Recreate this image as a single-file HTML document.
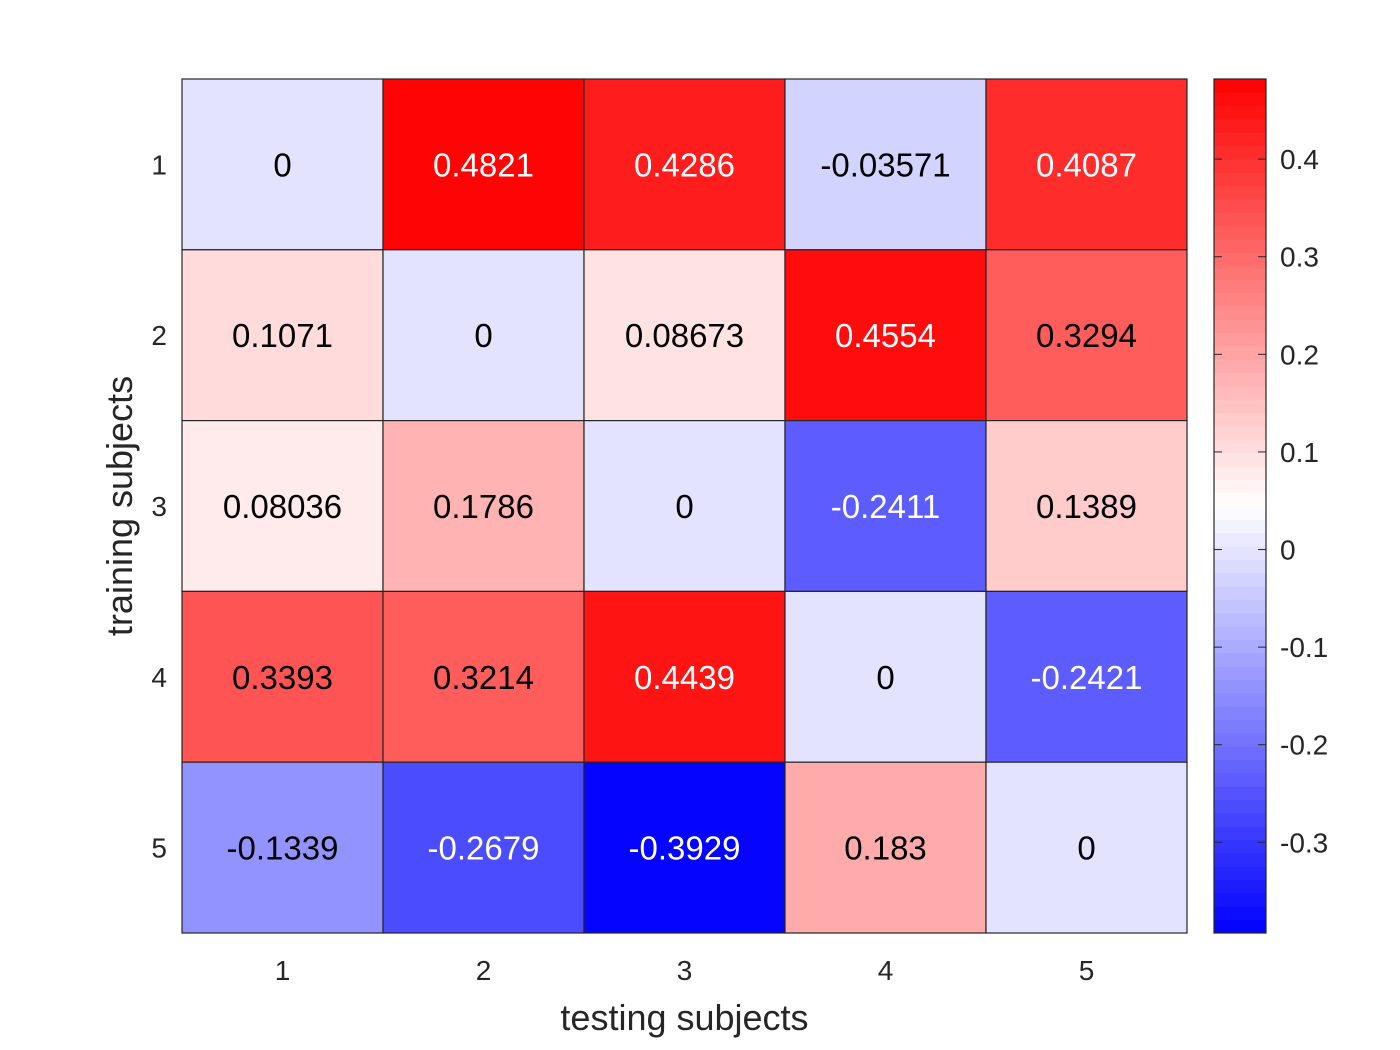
<!DOCTYPE html>
<html><head><meta charset="utf-8"><style>
html,body{margin:0;padding:0;background:#fff;}
svg{display:block;font-family:"Liberation Sans",Arial,sans-serif;}
</style></head><body>
<svg id="chart" width="1400" height="1050" viewBox="0 0 1400 1050">
<g id="cells"></g>
<g id="cbar"></g>
<text x="684.5" y="1030" font-size="36" text-anchor="middle" fill="#262626">testing subjects</text>
<text transform="translate(132,506) rotate(-90)" font-size="36" text-anchor="middle" fill="#262626">training subjects</text>
</svg>
<script>
const xCategories = ["1","2","3","4","5"];
const yCategories = ["1","2","3","4","5"];
const values = [
 [0, 0.4821, 0.4286, -0.03571, 0.4087],
 [0.1071, 0, 0.08673, 0.4554, 0.3294],
 [0.08036, 0.1786, 0, -0.2411, 0.1389],
 [0.3393, 0.3214, 0.4439, 0, -0.2421],
 [-0.1339, -0.2679, -0.3929, 0.183, 0]
];
const cbarTicks = [-0.3,-0.2,-0.1,0,0.1,0.2,0.3,0.4];
const labels = [
 ["0","0.4821","0.4286","-0.03571","0.4087"],
 ["0.1071","0","0.08673","0.4554","0.3294"],
 ["0.08036","0.1786","0","-0.2411","0.1389"],
 ["0.3393","0.3214","0.4439","0","-0.2421"],
 ["-0.1339","-0.2679","-0.3929","0.183","0"]
];
const NS="http://www.w3.org/2000/svg";
const L=182,R=1187,T=79,B=933;
const flat=values.flat();
const vmin=Math.min(...flat), vmax=Math.max(...flat);
const N=64;
function tNorm(v){return (v-vmin)/(vmax-vmin);}
function color(v){
  let i=Math.min(N-1,Math.floor(tNorm(v)*N));
  let t=(i+0.5)/N;
  let r,g,b;
  if(t<0.5){let s=Math.round(255*t*2);r=s;g=s;b=255;}
  else{let s=Math.round(255*(1-t)*2);r=255;g=s;b=s;}
  return `rgb(${r},${g},${b})`;
}
function el(tag,attrs,parent){const e=document.createElementNS(NS,tag);for(const k in attrs)e.setAttribute(k,attrs[k]);parent.appendChild(e);return e;}
const cw=(R-L)/xCategories.length, ch=(B-T)/yCategories.length;
const xs=i=>L+i*cw, ys=j=>T+j*ch;
const cells=document.getElementById('cells');
const svg=document.getElementById('chart');
values.forEach((row,j)=>row.forEach((v,i)=>{
  const r=el('rect',{x:xs(i),y:ys(j),width:cw,height:ch,fill:color(v),stroke:'#262626','stroke-width':1.2},cells);
  
  
  const t=tNorm(v);
  const tx=el('text',{x:xs(i)+cw/2,y:ys(j)+ch/2+12,'font-size':33,'text-anchor':'middle',fill:(t<0.2||t>0.87)?'#fff':'#000'},cells);
  tx.textContent=labels[j][i];
  
  
}));
xCategories.forEach((c,i)=>{
  const t=el('text',{x:xs(i)+cw/2,y:980,'font-size':28,'text-anchor':'middle',fill:'#262626'},svg);
  t.textContent=c;
  
  
});
yCategories.forEach((c,j)=>{
  const t=el('text',{x:167,y:ys(j)+ch/2+10,'font-size':28,'text-anchor':'end',fill:'#262626'},svg);
  t.textContent=c;
  
  
});
const cb=document.getElementById('cbar');
const CL=1214,CR=1266;
const cy=v=>B-(v-vmin)/(vmax-vmin)*(B-T);
for(let k=0;k<N;k++){
  const v0=vmin+k*(vmax-vmin)/N, v1=vmin+(k+1)*(vmax-vmin)/N;
  const r=el('rect',{x:CL,y:cy(v1),width:CR-CL,height:cy(v0)-cy(v1)+0.5,fill:color((v0+v1)/2)},cb);
  
  
}
const fr=el('rect',{x:CL,y:T,width:CR-CL,height:B-T,fill:'none',stroke:'#262626','stroke-width':1.2},cb);


cbarTicks.forEach(v=>{
  const y=cy(v);
  el('line',{x1:CL,x2:CL+8,y1:y,y2:y,stroke:'#262626','stroke-width':1},cb);
  el('line',{x1:CR-8,x2:CR,y1:y,y2:y,stroke:'#262626','stroke-width':1},cb);
  const t=el('text',{x:1280,y:y+10,'font-size':28,fill:'#262626'},cb);
  t.textContent=(v===0?'0':String(v));
  
  
});
</script>
</body></html>
